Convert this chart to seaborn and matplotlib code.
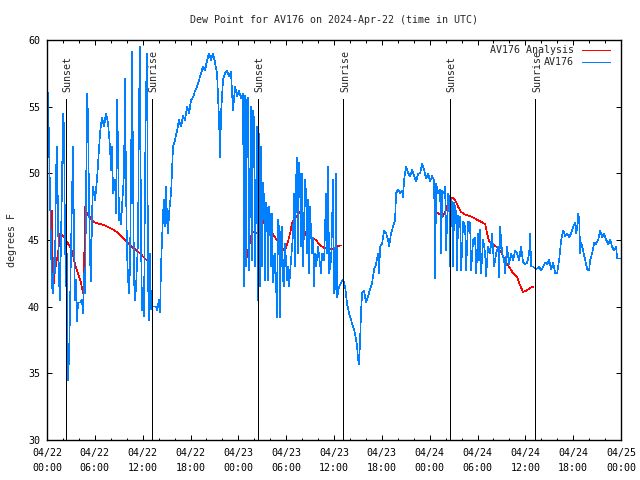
import numpy as np
import pandas as pd
import matplotlib
matplotlib.use("Agg")
import matplotlib.pyplot as plt
import matplotlib.dates as mdates
from matplotlib.lines import Line2D
import seaborn as sns

# observed dew point (hours after 2024-04-22 00:00 UTC, deg F)
obs_hours = [0.0, 0.12, 0.25, 0.38, 0.5, 0.63, 0.75, 0.88, 1.0, 1.13, 1.25, 1.38, 1.5, 1.63, 1.75, 1.88,
             2.0, 2.13, 2.26, 2.38, 2.5, 2.63, 2.76, 2.88, 3.0, 3.13, 3.26, 3.39, 3.51, 3.64, 3.76, 3.89,
             4.14, 4.39, 4.52, 4.64, 4.77, 4.89, 5.02, 5.14, 5.27, 5.4, 5.52, 5.65, 5.77, 6.02, 6.27, 6.65,
             6.9, 7.15, 7.4, 7.65, 7.9, 8.03, 8.16, 8.28, 8.53, 8.66, 8.78, 8.91, 9.03, 9.16, 9.29, 9.41,
             9.66, 9.79, 9.91, 10.04, 10.16, 10.29, 10.41, 10.54, 10.67, 10.79, 10.92, 11.04, 11.17, 11.42,
             11.54, 11.67, 11.79, 11.92, 12.05, 12.17, 12.3, 12.42, 12.55, 12.67, 12.8, 12.92, 13.05, 13.17,
             13.68, 13.8, 14.05, 14.18, 14.3, 14.56, 14.68, 14.81, 14.93, 15.06, 15.18, 15.31, 15.56, 15.81,
             16.06, 16.31, 16.56, 16.81, 17.06, 17.31, 17.57, 17.82, 18.07, 18.32, 18.57, 18.82, 19.07, 19.32,
             19.57, 19.82, 20.08, 20.33, 20.58, 20.83, 21.08, 21.33, 21.58, 21.71, 21.83, 22.08, 22.33, 22.58,
             22.83, 23.08, 23.33, 23.59, 23.84, 24.09, 24.34, 24.59, 24.72, 24.84, 24.97, 25.09, 25.22, 25.34,
             25.6, 25.72, 25.85, 25.97, 26.1, 26.35, 26.47, 26.6, 26.73, 26.85, 26.98, 27.1, 27.23, 27.35,
             27.48, 27.61, 27.73, 27.86, 27.98, 28.11, 28.23, 28.36, 28.61, 28.86, 28.98, 29.11, 29.24, 29.36,
             29.49, 29.61, 29.74, 29.86, 30.11, 30.24, 30.36, 30.61, 30.87, 30.99, 31.12, 31.24, 31.37, 31.49,
             31.62, 31.74, 31.87, 31.99, 32.12, 32.37, 32.5, 32.62, 32.75, 32.87, 33.0, 33.12, 33.25, 33.38,
             33.5, 33.63, 33.75, 34.0, 34.25, 34.38, 34.5, 34.76, 35.01, 35.13, 35.26, 35.38, 35.64, 35.89,
             36.01, 36.14, 36.26, 36.39, 36.64, 36.89, 37.14, 37.39, 37.64, 37.89, 38.14, 38.39, 38.64, 38.9,
             39.02, 39.15, 39.27, 39.4, 39.52, 39.77, 40.02, 40.28, 40.53, 40.78, 41.03, 41.28, 41.53, 41.66,
             41.78, 42.03, 42.28, 42.54, 42.79, 42.91, 43.16, 43.41, 43.66, 43.79, 44.04, 44.29, 44.54, 44.67,
             44.79, 45.04, 45.3, 45.55, 45.8, 46.05, 46.3, 46.55, 46.8, 47.05, 47.3, 47.55, 47.8, 48.06,
             48.31, 48.56, 48.68, 48.81, 49.06, 49.31, 49.44, 49.56, 49.81, 49.94, 50.06, 50.31, 50.44, 50.56,
             50.69, 50.82, 50.94, 51.07, 51.32, 51.44, 51.57, 51.82, 51.95, 52.2, 52.45, 52.57, 52.82, 53.07,
             53.2, 53.45, 53.7, 53.83, 54.08, 54.2, 54.33, 54.45, 54.71, 54.96, 55.08, 55.33, 55.58, 55.83,
             56.08, 56.34, 56.59, 56.71, 56.84, 57.09, 57.34, 57.46, 57.71, 57.96, 58.22, 58.47, 58.72, 58.97,
             59.22, 59.47, 59.72, 59.97, 60.23, 60.48, 60.6, 60.73, 60.98, 61.35, 61.73, 61.98, 62.23, 62.48,
             62.74, 62.99, 63.24, 63.49, 63.74, 63.99, 64.24, 64.5, 64.75, 65.0, 65.25, 65.5, 65.75, 66.0,
             66.25, 66.38, 66.51, 66.63, 66.76, 66.88, 67.0, 67.25, 67.5, 67.76, 68.0, 68.13, 68.38, 68.63,
             68.88, 69.13, 69.38, 69.63, 69.88, 70.14, 70.39, 70.64, 70.89, 71.14, 71.39, 71.51, 72.0]
obs_dewpt = [57.0, 55.7, 52.5, 48.5, 44.5, 41.5, 41.0, 43.7, 42.5, 50.0, 52.0, 47.0, 42.0, 40.5, 45.0, 49.0,
             54.5, 53.5, 45.0, 41.5, 44.0, 34.5, 36.2, 39.5, 44.0, 47.8, 52.0, 45.0, 40.5, 42.0, 38.9, 40.3,
             40.3, 40.5, 39.5, 42.5, 41.0, 47.5, 56.0, 54.4, 48.0, 43.5, 41.9, 47.0, 49.0, 48.0, 49.5, 53.0,
             54.2, 53.5, 54.5, 53.8, 52.0, 50.2, 52.0, 48.5, 49.5, 47.0, 55.5, 52.0, 46.5, 47.0, 46.2, 47.5,
             50.0, 57.1, 49.0, 44.0, 42.2, 41.0, 43.0, 50.0, 59.1, 50.0, 42.0, 40.5, 41.5, 45.0,
             55.0, 59.5, 45.0, 39.7, 40.5, 39.3, 50.0, 56.0, 59.0, 42.0, 39.0, 44.0, 39.8, 40.0,
             40.0, 39.7, 40.5, 39.6, 43.0, 47.0, 48.0, 46.0, 49.0, 46.5, 45.5, 47.0, 48.5, 52.0,
             52.5, 53.2, 54.0, 53.5, 54.3, 54.0, 55.0, 54.5, 55.5, 55.7, 56.2, 56.5, 57.0, 57.5,
             58.0, 57.7, 58.5, 59.0, 58.5, 59.0, 58.3, 57.5, 54.0, 51.2, 54.5, 57.0, 57.5, 57.7,
             57.3, 57.6, 54.7, 56.5, 55.8, 56.2, 55.6, 56.0, 41.5, 55.8, 43.0, 55.5, 55.7, 42.7,
             55.0, 43.5, 54.7, 54.0, 43.0, 53.5, 40.5, 53.0, 41.5, 52.0, 43.0, 49.3, 48.0, 42.0,
             47.8, 47.2, 42.0, 47.5, 46.7, 43.0, 47.0, 41.8, 44.0, 39.2, 46.5, 45.8, 39.2, 45.5,
             46.0, 42.0, 41.5, 44.7, 42.0, 43.0, 41.5, 43.5, 45.5, 48.5, 43.0, 49.5, 51.2, 44.0,
             50.8, 49.5, 44.5, 50.0, 43.0, 49.5, 48.5, 44.0, 48.0, 42.5, 47.5, 45.5, 44.0, 45.2,
             41.5, 44.0, 43.0, 44.5, 43.2, 42.5, 44.0, 43.5, 48.5, 44.0, 50.5, 42.5, 43.5, 49.5,
             41.0, 41.5, 50.0, 40.7, 41.5, 41.8, 42.0, 41.5, 40.2, 39.5, 39.0, 38.5, 38.0, 37.0,
             36.0, 35.7, 37.5, 39.7, 41.0, 41.2, 40.3, 40.8, 41.3, 41.8, 42.8, 43.2, 44.0, 42.5,
             44.5, 44.7, 45.7, 45.5, 45.0, 44.5, 45.5, 46.0, 46.5, 48.5, 48.8, 48.5, 48.7, 48.2,
             49.5, 50.5, 50.0, 49.8, 50.3, 49.8, 49.4, 50.0, 50.0, 50.7, 50.3, 49.6, 50.0, 49.4,
             49.8, 49.5, 42.1, 49.2, 48.5, 48.8, 44.0, 48.7, 48.5, 49.0, 44.2, 48.5, 48.2, 43.0,
             48.0, 47.8, 43.0, 47.8, 47.0, 42.7, 46.8, 46.7, 42.7, 46.4, 46.0, 42.7, 46.4, 46.3,
             42.7, 45.0, 45.2, 42.5, 45.5, 43.5, 45.8, 42.5, 45.0, 44.0, 42.3, 44.5, 44.0, 45.5,
             43.0, 44.0, 44.5, 42.2, 46.0, 44.0, 43.5, 42.5, 44.5, 43.2, 44.0, 43.5, 44.2, 44.0,
             43.5, 44.5, 43.3, 43.2, 43.3, 44.0, 45.5, 43.0, 43.0, 42.8, 43.0, 42.7, 43.0, 43.3,
             43.2, 43.5, 42.8, 43.3, 42.5, 42.5, 43.5, 45.0, 45.7, 45.3, 45.5, 45.2, 45.5, 46.0,
             46.3, 45.5, 46.0, 47.0, 46.5, 44.0, 44.8, 44.2, 43.5, 42.8, 42.7, 43.5, 44.0, 44.8,
             44.7, 45.0, 45.7, 45.2, 45.5, 45.0, 44.7, 45.0, 44.5, 44.2, 44.5, 43.6, 43.6]

# analysis dew point, three separate runs
ana1_hours = [0.63, 0.75, 1.0, 1.38, 1.63, 2.0, 2.38, 2.76, 3.13, 3.51, 3.89, 4.27, 4.52, 4.64, 4.77,
              5.02, 5.27, 5.52, 6.02, 6.65, 7.28, 7.9, 8.53, 9.16, 9.79, 10.41, 11.04, 11.67, 12.3, 12.67]
ana1_dewpt = [47.2, 41.2, 42.7, 44.0, 45.5, 45.3, 45.0, 44.6, 44.2, 43.2, 42.5, 41.8, 41.0, 42.5, 47.5,
              47.0, 46.8, 46.6, 46.3, 46.2, 46.1, 45.9, 45.7, 45.4, 45.0, 44.6, 44.3, 44.0, 43.6, 43.4]
ana2_hours = [24.97, 25.34, 25.72, 26.22, 26.73, 26.98, 27.35, 27.73, 28.11, 28.49, 28.86, 29.24, 29.61,
              29.86, 30.24, 30.49, 30.74, 31.12, 31.49, 31.74, 31.99, 32.37, 32.75, 33.25, 33.75, 34.25,
              34.76, 35.26, 35.76, 36.26, 36.89]
ana2_dewpt = [43.5, 44.5, 45.6, 45.5, 45.4, 46.5, 46.2, 45.9, 45.6, 45.3, 45.0, 44.7, 44.3,
              44.2, 44.9, 45.5, 46.3, 46.6, 46.9, 47.1, 46.5, 45.5, 45.1, 45.1, 45.0, 44.6,
              44.4, 44.4, 44.3, 44.5, 44.6]
ana3_hours = [48.81, 49.31, 49.69, 50.06, 50.44, 50.82, 51.19, 51.57, 51.95, 52.45, 53.07, 53.7, 54.33,
              54.96, 55.21, 55.46, 55.83, 56.34, 56.84, 57.21, 57.59, 57.96, 58.47, 58.97, 59.35, 59.72,
              60.1, 60.6, 60.98]
ana3_dewpt = [47.1, 46.9, 46.8, 47.3, 48.0, 48.2, 48.0, 47.5, 47.1, 46.9, 46.8, 46.6, 46.4,
              46.2, 45.5, 44.9, 44.7, 44.5, 44.2, 43.8, 43.3, 43.0, 42.5, 42.2, 41.6, 41.1,
              41.2, 41.4, 41.5]

sun_hours = [2.38, 13.2, 26.47, 37.17, 50.58, 61.25]
sun_labels = ["Sunset", "Sunrise", "Sunset", "Sunrise", "Sunset", "Sunrise"]

start = pd.Timestamp("2024-04-22 00:00")
OBS_COLOR = "#0080ff"
ANA_COLOR = "#ff0000"
LW = 0.45  # thin aliased line, close to gnuplot's one-pixel strokes


def to_time(hours):
    return start + pd.to_timedelta(np.asarray(hours), unit="h")


sns.set_style("ticks")
plt.rcParams["font.family"] = ["DejaVu Sans Mono", "DejaVu Sans"]
plt.rcParams["font.size"] = 7.2
plt.rcParams["lines.antialiased"] = False

fig = plt.figure(figsize=(6.4, 4.8), dpi=100)
ax = fig.add_axes([47 / 640, 40 / 480, 574 / 640, 400 / 480])

# analysis segments (drawn first, observations on top)
for hrs, vals in [(ana1_hours, ana1_dewpt), (ana2_hours, ana2_dewpt), (ana3_hours, ana3_dewpt)]:
    seg = pd.DataFrame({"time": to_time(hrs), "dewpt": vals})
    sns.lineplot(data=seg, x="time", y="dewpt", ax=ax, color=ANA_COLOR,
                 linewidth=LW, estimator=None, sort=False, antialiased=False)

obs = pd.DataFrame({"time": to_time(obs_hours), "dewpt": obs_dewpt})
sns.lineplot(data=obs, x="time", y="dewpt", ax=ax, color=OBS_COLOR,
             linewidth=LW, estimator=None, sort=False, antialiased=False)

# sunrise / sunset markers
for h, lab in zip(sun_hours, sun_labels):
    t = to_time([h])[0]
    ax.vlines(t, 30, 55.6, color="black", linewidth=0.72, antialiased=False)
    ax.text(t + pd.Timedelta(minutes=12), 56.1, lab, rotation=90,
            ha="center", va="bottom", fontsize=7.2)

ax.set_xlim(start, start + pd.Timedelta(hours=72))
ax.set_ylim(30, 60)
ax.set_yticks(range(30, 61, 5))
ax.xaxis.set_major_locator(mdates.HourLocator(byhour=[0, 6, 12, 18]))
ax.xaxis.set_minor_locator(mdates.HourLocator(byhour=range(0, 24, 2)))
ax.xaxis.set_major_formatter(mdates.DateFormatter("%m/%d\n%H:%M"))

ax.tick_params(which="both", direction="in", top=True, right=True, colors="black", labelsize=7.2)
ax.tick_params(axis="x", which="major", length=3.3, width=0.72, pad=6)
ax.tick_params(axis="x", which="minor", length=1.8, width=0.72)
ax.tick_params(axis="y", which="major", length=3.3, width=0.72, pad=5)
for sp in ax.spines.values():
    sp.set_visible(True)
    sp.set_linewidth(1.0)
    sp.set_color("black")

fig.canvas.draw()
for lab in ax.get_xticklabels():
    lab.set_linespacing(1.55)

ax.set_xlabel("")
ax.set_ylabel("degrees F", fontsize=7.2, labelpad=8)
ax.set_title("Dew Point for AV176 on 2024-Apr-22 (time in UTC)", fontsize=7.2, pad=12.5)

# gnuplot-style key: right-justified labels with sample line to the right
keys = [("AV176 Analysis", ANA_COLOR), ("AV176", OBS_COLOR)]
for i, (lab, col) in enumerate(keys):
    yk = 0.974 - i * 0.03
    ax.text(0.918, yk, lab, transform=ax.transAxes, ha="right", va="center", fontsize=7.2)
    ax.add_line(Line2D([0.932, 0.981], [yk, yk], transform=ax.transAxes, color=col,
                       linewidth=0.72, antialiased=False))

fig.savefig("out.png", dpi=100)
